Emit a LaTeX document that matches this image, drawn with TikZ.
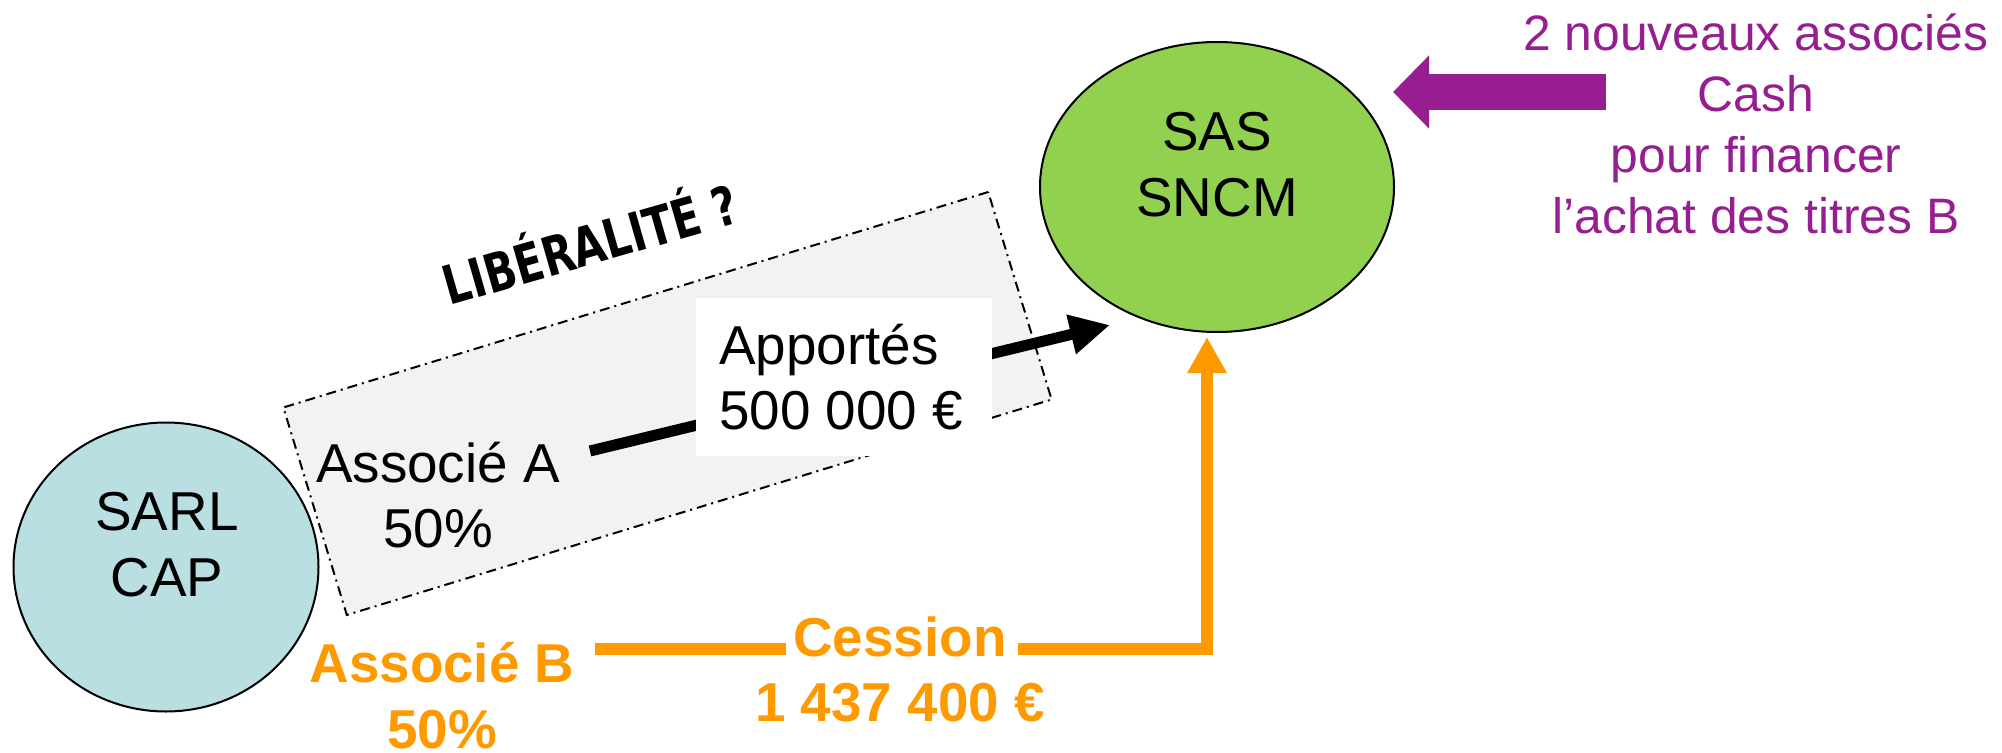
\documentclass[tikz,border=0pt]{standalone}
\usepackage{fontspec}
\setmainfont{Liberation Sans}
\newfontfamily\libfont{DejaVu Sans Condensed}
\usetikzlibrary{shapes.geometric,arrows.meta}
\definecolor{sarlblue}{RGB}{185,223,227}
\definecolor{sasgreen}{RGB}{146,208,80}
\definecolor{cessorange}{RGB}{255,153,0}
\definecolor{cashpurple}{RGB}{150,30,145}
\definecolor{boxgray}{RGB}{242,242,242}
\tikzset{
  entity/.style={ellipse, draw=black, line width=2bp, inner sep=0pt},
  bigtext/.style={inner sep=0pt, align=center, font=\fontsize{55}{66}\selectfont},
  orangetext/.style={inner sep=0pt, align=center, text=cessorange, font=\bfseries\fontsize{55}{66}\selectfont},
  purpletext/.style={inner sep=0pt, align=center, text=cashpurple, font=\fontsize{50}{61}\selectfont},
  zonebox/.style={draw=black, fill=boxgray, line width=2bp, dash pattern=on 10bp off 5bp on 2bp off 5bp, inner sep=0pt},
}
\begin{document}
\begin{tikzpicture}[x=1bp,y=-1bp]
\useasboundingbox (0,0) rectangle (2002,753);

% grey dash-dot zone
\node[zonebox, minimum width=737bp, minimum height=217bp, rotate=17] (zone) at (667.5,403.5) {};
\node[inner sep=0pt, rotate=16, xscale=0.86, font=\libfont\bfseries\fontsize{54}{54}\selectfont] (lib) at (589,240) {LIBÉRALITÉ ?};

% entities
\node[entity, fill=sarlblue, minimum width=305bp, minimum height=289bp] (sarl) at (166,567) {};
\node[bigtext] (sarltext) at (167,545) {SARL\\CAP};
\node[entity, fill=sasgreen, minimum width=354bp, minimum height=290bp] (sas) at (1217,187) {};
\node[bigtext] (sastext) at (1217,165) {SAS\\SNCM};

% black contribution arrow
\node[bigtext] (assocA) at (438,495) {Associé A\\50\%};
\coordinate (aStart) at (590,451);
\coordinate (aTip) at (1110,325);
\draw[line width=11bp, -{Triangle[length=40bp,width=38bp]}] (aStart) -- (aTip);
\node[fill=white, minimum width=296bp, minimum height=158bp, inner sep=0pt] (apport) at (844,377) {};
\node[bigtext, align=left] (apporttext) at (841,377) {Apportés\\500 000 €};

% orange sale arrow
\node[orangetext] (assocB) at (442,696) {Associé B\\50\%};
\node[orangetext] (cession) at (900,637) {Cession};
\node[orangetext, anchor=north] (montant) at (900,683) {1 437 400 €};
\coordinate (oStart) at (595,649);
\coordinate (oCorner) at (1207,649);
\coordinate (oTip) at (1207,337);
\draw[cessorange, line width=12bp] (oStart) -- ([xshift=-7bp]oStart -| cession.west);
\draw[cessorange, line width=12bp, -{Triangle[length=36bp,width=37bp]}] ([xshift=11bp]oStart -| cession.east) -- (oCorner) -- (oTip);

% purple cash arrow
\coordinate (pStart) at (1606,92);
\coordinate (pTip) at (1393,92);
\draw[cashpurple, line width=36bp, -{Triangle[length=36bp,width=71bp]}] (pStart) -- (pTip);
\node[purpletext] (cash) at (1756,124) {2 nouveaux associés\\Cash\\pour financer\\l’achat des titres B};
\end{tikzpicture}
\end{document}
